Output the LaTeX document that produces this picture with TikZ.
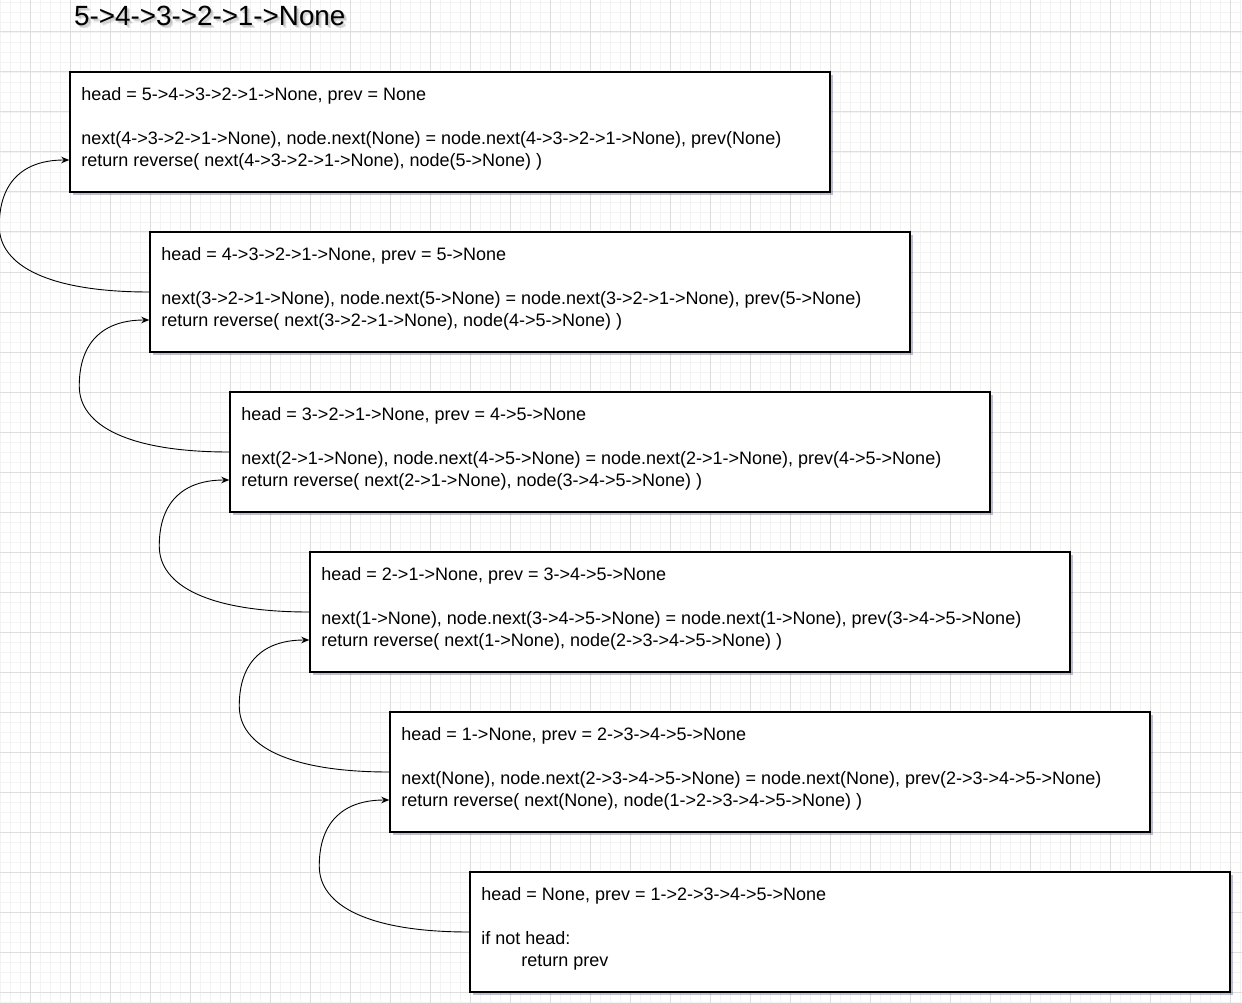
\documentclass[tikz,border=0pt]{standalone}
\usepackage{fontspec}
\setmainfont{Liberation Sans}
\usetikzlibrary{positioning, calc, arrows.meta, shadows}
\definecolor{gridminor}{HTML}{F3F3F3}
\definecolor{gridmajor}{HTML}{DEDEDE}

\begin{document}
\begin{tikzpicture}[x=1pt, y=-1pt,
		stepbox/.style={draw, line width=1.5pt, fill=white, minimum width=760pt, minimum height=120pt, inner sep=0pt,
			drop shadow={shadow xshift=3pt, shadow yshift=-3pt, opacity=0.25, fill=black!70!blue}},
		steptext/.style={anchor=north west, align=left, inner sep=0pt, font=\fontsize{18}{22}\selectfont},
		titletext/.style={anchor=base west, inner sep=0pt, font=\fontsize{27.8}{30}\selectfont},
		callarrow/.style={-{Stealth[length=8pt, width=6.5pt]}, line width=0.9pt},
		gridminor/.style={draw=gridminor, line width=0.8pt},
		gridmajor/.style={draw=gridmajor, line width=1pt}]
	\useasboundingbox (0,0) rectangle (1242,1003);
	\fill[white] (0,0) rectangle (1242,1003);
	% grid
	\foreach \gx in {0,10,...,1240} \draw[gridminor] (\gx,0) -- (\gx,1003);
	\foreach \gy in {2,12,...,1002} \draw[gridminor] (0,\gy) -- (1242,\gy);
	\foreach \gx in {30,70,...,1230} \draw[gridmajor] (\gx,0) -- (\gx,1003);
	\foreach \gy in {32,72,...,992} \draw[gridmajor] (0,\gy) -- (1242,\gy);

	\foreach \s in {1,2,3}
		\node[titletext, opacity=0.1] (titleshadow\s) at (74+\s,25.7+\s) {5->4->3->2->1->None};
	\node[titletext] (title) at (74,25.7) {5->4->3->2->1->None};

	\node[stepbox] (b1) at (450,132) {};
	\node[stepbox] (b2) at (530,292) {};
	\node[stepbox] (b3) at (610,452) {};
	\node[stepbox] (b4) at (690,612) {};
	\node[stepbox] (b5) at (770,772) {};
	\node[stepbox] (b6) at (850,932) {};

	\node[steptext] (t1) at ([shift={(12pt,-16pt)}]b1.north west)
		{head = 5->4->3->2->1->None, prev = None\\[22pt]
		next(4->3->2->1->None), node.next(None) = node.next(4->3->2->1->None), prev(None)\\
		return reverse( next(4->3->2->1->None), node(5->None) )};
	\node[steptext] (t2) at ([shift={(12pt,-16pt)}]b2.north west)
		{head = 4->3->2->1->None, prev = 5->None\\[22pt]
		next(3->2->1->None), node.next(5->None) = node.next(3->2->1->None), prev(5->None)\\
		return reverse( next(3->2->1->None), node(4->5->None) )};
	\node[steptext] (t3) at ([shift={(12pt,-16pt)}]b3.north west)
		{head = 3->2->1->None, prev = 4->5->None\\[22pt]
		next(2->1->None), node.next(4->5->None) = node.next(2->1->None), prev(4->5->None)\\
		return reverse( next(2->1->None), node(3->4->5->None) )};
	\node[steptext] (t4) at ([shift={(12pt,-16pt)}]b4.north west)
		{head = 2->1->None, prev = 3->4->5->None\\[22pt]
		next(1->None), node.next(3->4->5->None) = node.next(1->None), prev(3->4->5->None)\\
		return reverse( next(1->None), node(2->3->4->5->None) )};
	\node[steptext] (t5) at ([shift={(12pt,-16pt)}]b5.north west)
		{head = 1->None, prev = 2->3->4->5->None\\[22pt]
		next(None), node.next(2->3->4->5->None) = node.next(None), prev(2->3->4->5->None)\\
		return reverse( next(None), node(1->2->3->4->5->None) )};
	\node[steptext] (t6) at ([shift={(12pt,-16pt)}]b6.north west)
		{head = None, prev = 1->2->3->4->5->None\\[22pt]
		if not head:\\
		\hspace*{40pt}return prev};

	% each call hands back to the one above
	\foreach \a/\b in {b2/b1, b3/b2, b4/b3, b5/b4, b6/b5}
		\draw[callarrow] (\a.west) .. controls +(-100,0) and +(0,40) .. ([shift={(-150pt,66pt)}]\a.west)
			.. controls +(0,-45) and +(-45,0) .. ([yshift=-28pt]\b.west);
\end{tikzpicture}
\end{document}
